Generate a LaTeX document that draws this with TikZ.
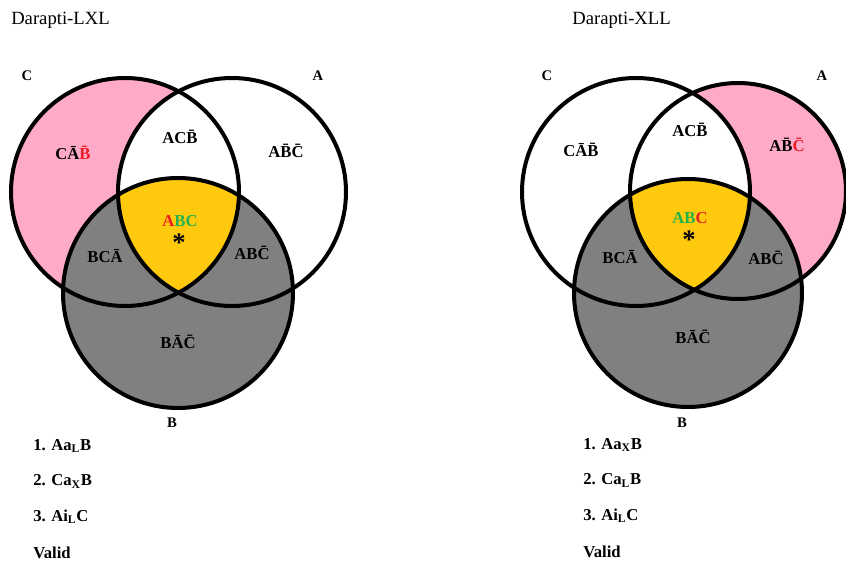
\documentclass[tikz,border=0pt]{standalone}
\usepackage{fontspec}
\setmainfont{Liberation Serif}
\definecolor{regionPink}{HTML}{FFAAC9}
\definecolor{regionYellow}{HTML}{FFC90E}
\definecolor{regionGray}{HTML}{808080}
\definecolor{markRed}{HTML}{ED1C24}
\definecolor{markGreen}{HTML}{22B14C}
%% a letter with a bar over it (complement)
\newcommand{\nt}[1]{\={#1}}

\begin{document}
\begin{tikzpicture}[%%
  x=0.75pt,y=-0.75pt,%%
  circleStyle/.style={line width=3pt},%%
  regionStyle/.style={inner sep=0pt,font=\fontsize{12.5}{14}\selectfont\bfseries},%%
  setStyle/.style={inner sep=0pt,font=\fontsize{11}{13}\selectfont\bfseries},%%
  starStyle/.style={inner sep=0pt,font=\fontsize{20}{20}\selectfont\bfseries},%%
  titleStyle/.style={inner sep=0pt,anchor=west,font=\fontsize{14}{16}\selectfont},%%
  listStyle/.style={inner sep=0pt,anchor=west,font=\fontsize{12.5}{15}\selectfont\bfseries}%%
]
%%
\useasboundingbox (0,0) rectangle (846,563);
%%
\pgfmathsetmacro{\rad}{114}
\pgfmathsetmacro{\radB}{115}
\pgfmathsetmacro{\radA}{108}
\pgfmathsetmacro{\dy}{35.5}
%%
%% Circle centres, left picture.
\coordinate (lC) at (125,192);
\coordinate (lA) at (232,192);
\coordinate (lB) at (178,293);
%% Circle centres, right picture.
\coordinate (rC) at (636,192);
\coordinate (rA) at (738,191);
\coordinate (rB) at (688,293);
%%
%% Left picture: Darapti-LXL.
\fill[regionPink] (lC) circle (\rad);
\fill[white] (lA) circle (\rad);
\fill[regionGray] (lB) circle (\radB);
\begin{scope}
  \clip (lA) circle (\rad);
  \clip (lC) circle (\rad);
  \fill[regionYellow] (lB) circle (\radB);
\end{scope}
\draw[circleStyle] (lC) circle (\rad);
\draw[circleStyle] (lA) circle (\rad);
\draw[circleStyle] (lB) circle (\radB);
%%
\node[titleStyle] (lTitle) at (11,20) {Darapti-LXL};
\node[setStyle] (lSetC) at (27,76) {C};
\node[setStyle] (lSetA) at (318,76) {A};
\node[setStyle] (lSetB) at (172,423) {B};
%%
\node[regionStyle] (lCAB) at (73,153) {C\nt{A}\textcolor{markRed}{\nt{B}}};
\node[regionStyle] (lACB) at (180,137) {AC\nt{B}};
\node[regionStyle] (lABC) at (286,151) {A\nt{B}\nt{C}};
\node[regionStyle] (lAll) at (180,221) {\textcolor{markRed}{A}\textcolor{markGreen}{BC}};
\node[starStyle] (lStar) at (179,243) {*};
\node[regionStyle] (lBCA) at (105,256) {BC\nt{A}};
\node[regionStyle] (lABnC) at (252,253) {AB\nt{C}};
\node[regionStyle] (lBAC) at (178,342) {B\nt{A}\nt{C}};
%%
\node[listStyle] (lOne) at (33,446) {1. Aa\textsubscript{L}B};
\node[listStyle] (lTwo) at (33,446+\dy) {2. Ca\textsubscript{X}B};
\node[listStyle] (lThree) at (33,446+2*\dy) {3. Ai\textsubscript{L}C};
\node[listStyle] (lValid) at (33,446+3*\dy) {Valid};
%%
%% Right picture: Darapti-XLL.
\fill[regionPink] (rA) circle (\radA);
\fill[white] (rC) circle (\rad);
\fill[regionGray] (rB) circle (\rad);
\begin{scope}
  \clip (rA) circle (\radA);
  \clip (rC) circle (\rad);
  \fill[regionYellow] (rB) circle (\rad);
\end{scope}
\draw[circleStyle] (rC) circle (\rad);
\draw[circleStyle] (rA) circle (\radA);
\draw[circleStyle] (rB) circle (\rad);
%%
\node[titleStyle] (rTitle) at (572,20) {Darapti-XLL};
\node[setStyle] (rSetC) at (547,76) {C};
\node[setStyle] (rSetA) at (822,76) {A};
\node[setStyle] (rSetB) at (682,423) {B};
%%
\node[regionStyle] (rCAB) at (581,150) {C\nt{A}\nt{B}};
\node[regionStyle] (rACB) at (690,130) {AC\nt{B}};
\node[regionStyle] (rABC) at (787,145) {A\nt{B}\textcolor{markRed}{\nt{C}}};
\node[regionStyle] (rAll) at (690,218) {\textcolor{markGreen}{AB}\textcolor{markRed}{C}};
\node[starStyle] (rStar) at (689,240) {*};
\node[regionStyle] (rBCA) at (620,257) {BC\nt{A}};
\node[regionStyle] (rABnC) at (766,258) {AB\nt{C}};
\node[regionStyle] (rBAC) at (693,337) {B\nt{A}\nt{C}};
%%
\node[listStyle] (rOne) at (583,445) {1. Aa\textsubscript{X}B};
\node[listStyle] (rTwo) at (583,445+\dy) {2. Ca\textsubscript{L}B};
\node[listStyle] (rThree) at (583,445+2*\dy) {3. Ai\textsubscript{L}C};
\node[listStyle] (rValid) at (583,445+3*\dy) {Valid};
\end{tikzpicture}
\end{document}
